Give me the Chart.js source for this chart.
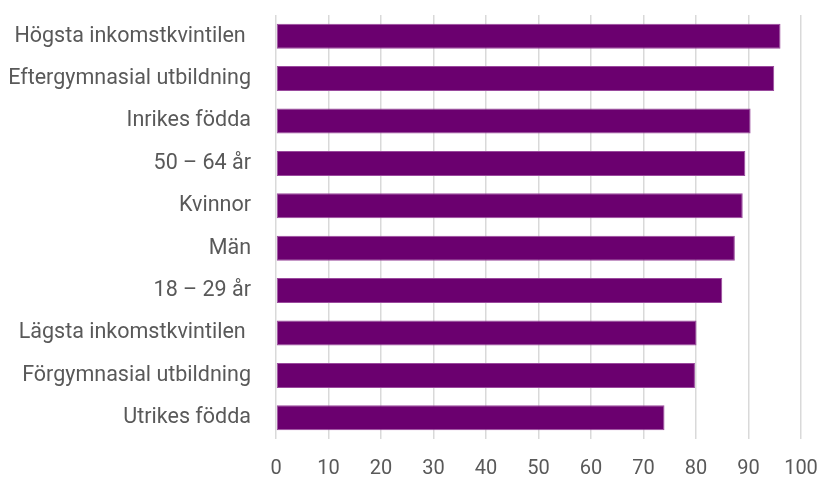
<!DOCTYPE html>
<html>
<head>
<meta charset="utf-8">
<script src="https://cdn.jsdelivr.net/npm/chart.js@4"></script>
<style>
  html, body { margin: 0; padding: 0; background: #fff; }
  #wrap { width: 820px; height: 479px; }
</style>
</head>
<body>
<div id="wrap"><canvas id="chart"></canvas></div>
<script>
// grupper och andel (%)
const grupper = [
  'Högsta inkomstkvintilen ',
  'Eftergymnasial utbildning',
  'Inrikes födda',
  '50 – 64 år',
  'Kvinnor',
  'Män',
  '18 – 29 år',
  'Lägsta inkomstkvintilen ',
  'Förgymnasial utbildning',
  'Utrikes födda'
];
const andel = [96.1, 94.9, 90.4, 89.4, 88.9, 87.4, 85.0, 80.1, 79.8, 74.0];
const xTicks = [0, 10, 20, 30, 40, 50, 60, 70, 80, 90, 100];

Chart.defaults.font.family = 'Roboto, "Noto Sans", sans-serif';
Chart.defaults.color = '#595959';

new Chart(document.getElementById('chart'), {
  type: 'bar',
  data: {
    labels: grupper,
    datasets: [{
      data: andel,
      backgroundColor: '#6b006f',
      borderColor: '#9a4a9d',
      borderWidth: 1,
      borderSkipped: false,
      barPercentage: 0.59,
      categoryPercentage: 1
    }]
  },
  options: {
    indexAxis: 'y',
    responsive: true,
    maintainAspectRatio: false,
    animation: false,
    layout: { padding: { top: 15, right: 0, bottom: 0, left: 0 } },
    plugins: {
      legend: { display: false },
      tooltip: { enabled: false }
    },
    scales: {
      x: {
        min: 0,
        max: 100,
        afterBuildTicks: scale => { scale.ticks = xTicks.map(v => ({ value: v })); },
        border: { display: false },
        grid: { color: '#d9d9d9', lineWidth: 1.5, tickLength: 0 },
        ticks: { font: { size: 20 }, padding: 18, color: '#595959', maxRotation: 0 },
        afterFit: scale => { scale.height = 40; scale.paddingRight = 19; scale.paddingLeft = 0; }
      },
      y: {
        border: { display: false },
        grid: { display: false },
        ticks: { font: { size: 21.5 }, padding: 17, color: '#595959', crossAlign: 'near' },
        afterFit: scale => { scale.width = 276; scale.paddingTop = 0; scale.paddingBottom = 0; }
      }
    }
  }
});
</script>
</body>
</html>
